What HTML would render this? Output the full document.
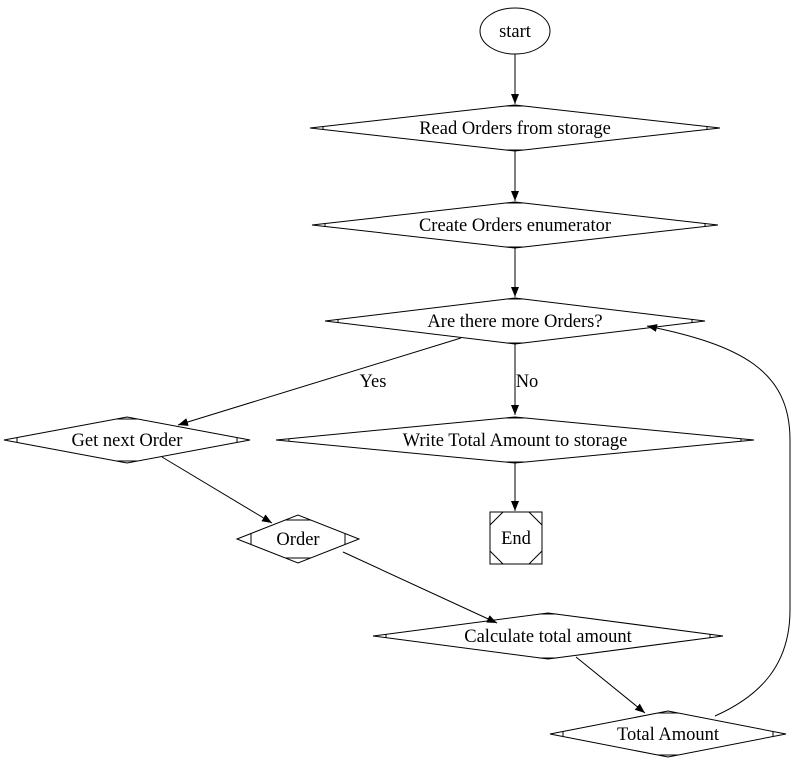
<!DOCTYPE html>
<html><head><meta charset="utf-8"><style>body{margin:0;background:#fff}svg{display:block}</style></head><body>
<svg width="795" height="763" viewBox="0 0 795 763" xmlns="http://www.w3.org/2000/svg" font-family="Liberation Serif, serif" font-size="18.5">
<defs><marker id="a" markerWidth="10" markerHeight="8" refX="10" refY="4" orient="auto" markerUnits="userSpaceOnUse"><path d="M0,0 L10,4 L0,8 Z" fill="#000"/></marker></defs>
<g fill="none" stroke="#000" stroke-width="1">
<ellipse cx="515" cy="31" rx="35" ry="23"/>
<path d="M310,128 L515,105 L720,128 L515,151 Z"/>
<path d="M323,126.5 V129.5 M707,126.5 V129.5 M506,106 H524 M506,150 H524"/>
<path d="M312,225 L515,202 L718,225 L515,248 Z"/>
<path d="M325,223.5 V226.5 M705,223.5 V226.5 M506,203 H524 M506,247 H524"/>
<path d="M325,321 L515,298 L705,321 L515,344 Z"/>
<path d="M338,319.5 V322.5 M692,319.5 V322.5 M506,299 H524 M506,343 H524"/>
<path d="M4,440 L127,417 L250,440 L127,463 Z"/>
<path d="M17,437.5 V442.5 M237,437.5 V442.5 M117,419 H137 M117,461 H137"/>
<path d="M276,440 L515,417 L754,440 L515,463 Z"/>
<path d="M289,438.5 V441.5 M741,438.5 V441.5 M506,418 H524 M506,462 H524"/>
<rect x="490" y="512" width="52" height="52"/>
<path d="M490,525 L503,512 M529,512 L542,525 M542,551 L529,564 M503,564 L490,551"/>
<path d="M237,539 L298,515 L359,539 L298,563 Z"/>
<path d="M251,533.5 V544.5 M345,533.5 V544.5 M285,520 H311 M285,558 H311"/>
<path d="M373,636 L548,613 L723,636 L548,659 Z"/>
<path d="M386,634.5 V637.5 M710,634.5 V637.5 M539,614 H557 M539,658 H557"/>
<path d="M550,734 L668,711 L786,734 L668,757 Z"/>
<path d="M563,731.5 V736.5 M773,731.5 V736.5 M658,713 H678 M658,755 H678"/>
</g>
<g fill="none" stroke="#000" stroke-width="1" marker-end="url(#a)">
<path d="M515,54 V104"/>
<path d="M515,151 V201"/>
<path d="M515,248 V297"/>
<path d="M461,338 L178,425"/>
<path d="M515,344 V415"/>
<path d="M515,463 V511"/>
<path d="M162,457 L272,523"/>
<path d="M343,552 L497,623"/>
<path d="M576,657 L645,713"/>
<path d="M715,716 C760,696 790,665 790,610 L790,440 C790,370 740,345 647,326"/>
</g>
<g text-anchor="middle" fill="#000">
<text x="515" y="37">start</text>
<text x="515" y="134">Read Orders from storage</text>
<text x="515" y="231">Create Orders enumerator</text>
<text x="515" y="327">Are there more Orders?</text>
<text x="127" y="446">Get next Order</text>
<text x="515" y="446">Write Total Amount to storage</text>
<text x="516" y="544">End</text>
<text x="298" y="545">Order</text>
<text x="548" y="642">Calculate total amount</text>
<text x="668" y="740">Total Amount</text>
<text x="373" y="387">Yes</text>
<text x="527" y="387">No</text>
</g>
</svg>
</body></html>
